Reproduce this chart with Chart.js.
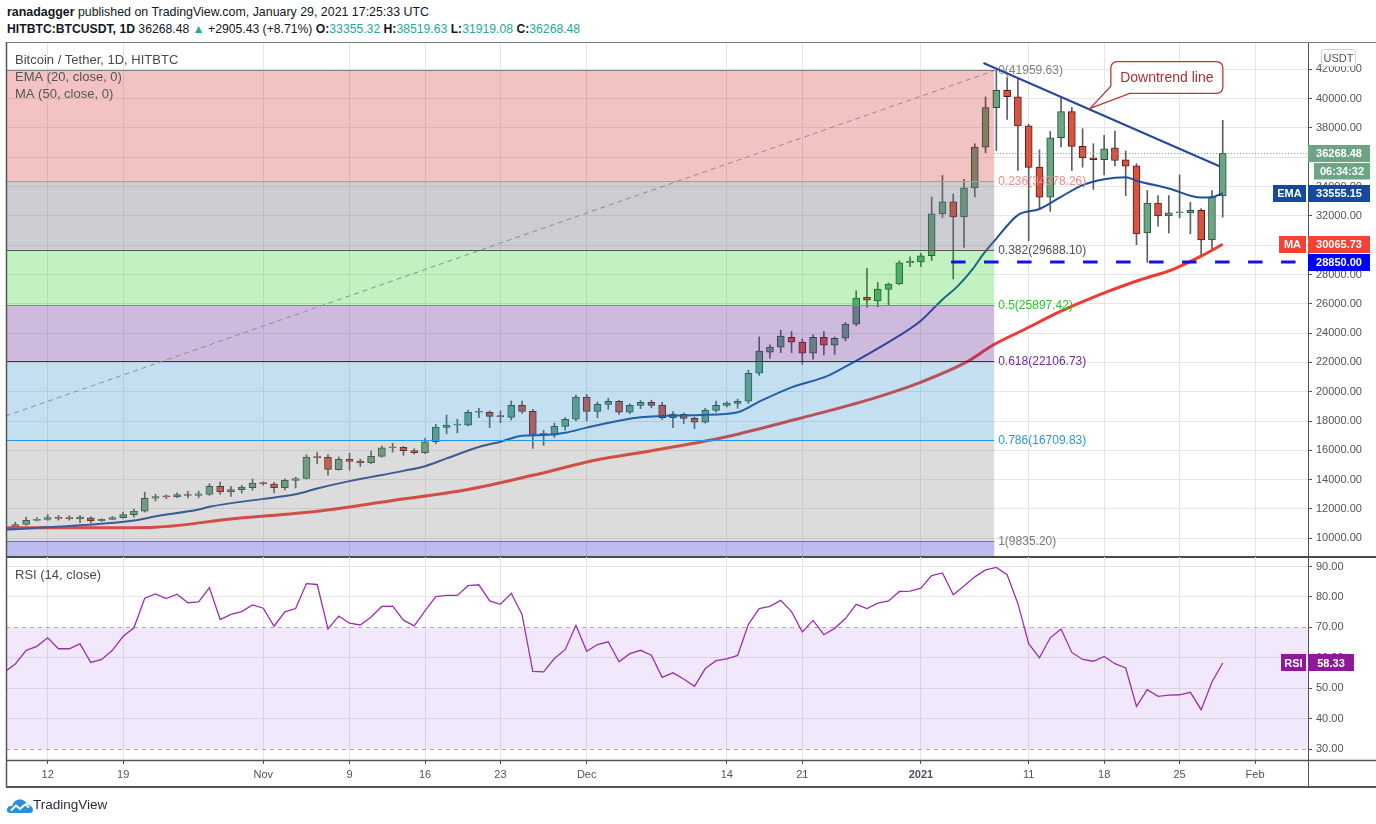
<!DOCTYPE html>
<html>
<head>
<meta charset="utf-8">
<script src="https://cdn.jsdelivr.net/npm/chart.js@4.4.1/dist/chart.umd.min.js"></script>
<style>
html, body { margin: 0; padding: 0; background: #fff; }
body { width: 1376px; height: 824px; position: relative; overflow: hidden; font-family: "Liberation Sans", Arial, sans-serif; color: #131722; }
canvas { position: absolute; left: 0; top: 0; }
.hd { position: absolute; left: 7px; white-space: nowrap; }
#h1 { top: 5px; font-size: 12.4px; }
#h2 { top: 22px; font-size: 12.2px; }
.v { color: #26a69a; }
#logo { position: absolute; left: 6px; top: 796px; }
#tv { position: absolute; left: 33px; top: 797px; font-size: 13.5px; color: #2a2e39; }
</style>
</head>
<body>
<div class="hd" id="h1"><b>ranadagger</b> published on TradingView.com, January 29, 2021 17:25:33 UTC</div>
<div class="hd" id="h2"><b>HITBTC:BTCUSDT, 1D</b> 36268.48 <span class="v">&#9650;</span> +2905.43 (+8.71%) <b>O:</b><span class="v">33355.32</span> <b>H:</b><span class="v">38519.63</span> <b>L:</b><span class="v">31919.08</span> <b>C:</b><span class="v">36268.48</span></div>
<canvas id="main" width="1376" height="824"></canvas>
<canvas id="rsi" width="1376" height="824"></canvas>
<svg id="logo" width="28" height="18" viewBox="0 0 28 18"><path d="M4 17 C1 17 0 14 1.5 12 C2.5 10 5 9.5 6 10.5 C7 6 10 3.5 14 3.5 C18 3.5 20.5 6 21 9 C24 9 27 11 27 14 C27 16 25.5 17 24 17 Z" fill="#2a8fd8"/><polyline points="5,14.5 10,9.5 14,13 19,8.5 23,11.5" fill="none" stroke="#fff" stroke-width="2"/></svg>
<div id="tv">TradingView</div>
<script>
const FONT = '"Liberation Sans", Arial, sans-serif';

// days are counted from 2020-10-12 (= 0); first candle is 2020-10-08
const firstDay = -4;

const opens = [10590,10780,10940,11220,11290,11430,11370,11330,11400,11200,11290,11410,11610,11850,12730,12880,12830,12990,12930,13000,
  13540,13170,13310,13450,13770,13700,13450,13950,14080,15560,15520,14680,15380,15260,15160,15590,16180,16200,15990,15840,
  16590,17570,17720,17710,18600,18600,18380,18250,19070,18660,17140,17030,17640,18120,19640,18660,19140,19350,18600,19070,
  19280,19070,18230,18460,18180,17930,18730,19070,19210,19350,21260,22700,23040,23720,23380,22630,23720,23180,23650,24610,
  26440,26200,26980,27350,28800,28850,29280,32130,32950,31930,33910,36690,39380,40560,40130,38150,35320,33270,37330,39110,
  36740,35960,35830,36650,35830,35420,30830,32880,32000,32200,32200,32380,30360,33355.32];
const highs = [10950,11100,11440,11420,11620,11560,11540,11570,11470,11330,11480,11790,11990,13150,13000,12950,13100,13200,13220,13720,
  13840,13540,13620,14050,13840,13820,14060,14170,15700,15880,15720,15550,15810,15400,15950,16290,16480,16270,16120,16820,
  17770,18410,18120,18730,18870,18690,18690,19370,19370,18800,17370,17860,18230,19780,19820,19300,19550,19420,19170,19400,
  19420,19270,18640,18560,18260,18870,19370,19330,19500,21470,23740,23200,24200,24110,23590,23880,24110,23740,24720,26890,
  28420,27460,27420,28940,29210,29440,33280,34750,33500,34500,36920,40110,41959.63,41430,41320,38250,36500,37760,40110,39400,
  37950,36920,37490,37780,36420,35560,33730,33380,33380,34800,32930,32500,33730,38519.63];
const lows = [10530,10740,10900,11180,11220,11240,11230,11060,11050,11150,11260,11370,11440,11790,12550,12700,12780,12750,12780,12930,
  12990,12850,13080,13280,13620,13100,13300,13440,14050,15080,14300,14650,14650,14900,15100,15540,15880,15660,15750,15770,
  16460,17130,17200,17660,18230,17550,17890,18070,18520,16130,16340,16880,17370,18000,18000,18230,18800,18460,18500,18850,
  18900,18090,17550,17820,17480,17860,18600,18960,18870,19210,21120,22290,22670,22670,21870,22220,22510,22560,23470,24500,
  25750,25800,25910,27300,28530,28530,28950,31900,27690,29850,33300,36300,36460,38580,35100,30310,32470,32300,36700,35090,
  35320,33800,34800,35400,33380,30030,28830,31290,30830,31860,30770,29280,29740,31919.08];
const closes = [10770,10940,11220,11300,11420,11350,11340,11440,11210,11300,11420,11620,11850,12730,12850,12830,12990,12920,13030,13540,
  13170,13330,13490,13760,13730,13450,13950,14080,15540,15500,14700,15380,15250,15150,15590,16180,16220,15975,15840,16590,
  17590,17730,17760,18600,18640,18320,18300,19070,18660,17090,17090,17640,18120,19640,18660,19140,19350,18600,19070,19280,
  19070,18230,18460,18180,17920,18730,19070,19220,19350,21260,22770,23040,23790,23380,22630,23720,23180,23650,24610,26390,
  26250,27000,27350,28800,28890,29280,32130,32950,31930,33910,36690,39380,40560,40130,38130,35300,33270,37330,39110,36740,
  35960,35830,36580,35780,35390,30770,32880,32000,32200,32220,32380,30360,33300,36268.48];

const rsiValues = [55.4,58.0,62.5,63.8,66.6,63.0,63.0,64.6,58.5,59.5,62.5,67.1,69.9,79.6,81.0,79.5,80.9,78.1,78.4,83.1,
  72.6,74.3,75.2,77.4,76.3,70.4,75.1,76.2,84.4,84.1,69.5,73.7,71.4,70.8,73.4,76.9,77.0,72.4,70.5,75.4,
  80.1,80.5,80.5,83.7,84.0,78.7,77.6,81.2,74.3,55.6,55.4,59.8,62.7,70.7,62.2,64.4,65.3,58.7,61.4,62.5,
  60.9,53.6,55.1,53.1,50.7,56.5,59.1,59.7,60.8,71.0,76.2,76.9,78.9,75.2,68.5,72.3,67.6,69.7,72.9,77.6,
  76.2,78.0,78.7,81.8,81.9,82.9,87.0,87.9,80.7,83.6,86.6,88.9,89.7,87.3,77.8,64.7,60.0,66.6,69.5,61.8,
  59.5,58.9,60.5,58.1,56.7,44.1,49.6,47.4,47.8,47.9,48.7,43.0,52.1,58.33];

const emaDays = [-4,0,8,10,14,15,20,23,25,28,33,35,37,40,42,44,46,48,50,55,60.5,64,66,69,72.3,74,77.8,81,83,84.3,85.8,86.8,88,90,92,94,96,98,100,101,104,107,108,109];
const emaValues = [10590,10750,11210,11500,11960,12150,12690,13000,13400,13900,14600,14920,15450,16230,16590,17000,17050,17200,17550,18255,18410,18600,19320,20300,21070,21710,23300,24850,26300,27120,28370,29400,30450,32050,32470,33300,34100,34500,34640,34400,33870,33250,33270,33555.15];

const maDays = [-4,5,10,17,25,32,39,45,51.2,54.9,63,69.8,76.6,80.9,85.3,87.7,90.5,93.9,98.3,101.3,104.4,106.9,109];
const maValues = [10720,10720,10760,11320,11850,12580,13330,14300,15390,15840,16930,18190,19550,20620,22050,23190,24210,25460,26825,27624,28354,29213,30065.73];

const tickDays = [0,7,20,28,35,42,50,63,70,81,91,98,105,112];
const tickLabels = ['12','19','Nov','9','16','23','Dec','14','21','2021','11','18','25','Feb'];
const priceTicks = [10000,12000,14000,16000,18000,20000,22000,24000,26000,28000,30000,32000,34000,36000,38000,40000,42000];
const rsiTicks = [30,40,50,60,70,80,90];

const fibRatios = ['0','0.236','0.382','0.5','0.618','0.786','1'];
const fibPrices = [41959.63,34378.26,29688.10,25897.42,22106.73,16709.83,9835.20];
const fibLowDay = -37, fibHighDay = 88, fibEndDay = 87.8;

const trendStart = [86.8, 42430];
const trendEnd = [108.75, 35370];
const calloutTip = [96.7, 39340];
const supportPrice = 28850, supportFromDay = 83.8;
const lastEma = 33555.15, lastMa = 30065.73, lastRsi = 58.33;
const countdown = '06:34:32';

// view window
const xMin = -3.868, xMax = 116.91;
const yMin = 8723.5, yMax = 43862.7;
const rsiMin = 26.49, rsiMax = 93.12;

// styles
const upColor = '#6ba583', upBorder = '#225437';
const downColor = '#d75442', downBorder = '#5b1a13';
const gridColor = '#e6e6e6';
const axisColor = '#50535e';
const fibFills = ['rgba(204,0,0,0.24)','rgba(110,110,125,0.35)','rgba(0,200,0,0.24)','rgba(100,40,150,0.32)',
  'rgba(40,140,200,0.28)','rgba(128,128,128,0.28)','rgba(70,70,220,0.36)'];
const fibLines = ['#808080','#e08585','#555555','#4caf50','#4a1d7a','#2196f3','#787878'];
const fibTexts = ['#808080','#f08a8a','#505050','#2fbf2f','#6a2d9a','#2d96dc','#787878'];

const candleX = closes.map((c, i) => i + firstDay);
const isUp = i => closes[i] >= opens[i];

function tag(ctx, yc, x0, x1, bg, text) {
  ctx.fillStyle = bg;
  ctx.fillRect(x0, Math.round(yc - 8.5), x1 - x0, 17);
  ctx.fillStyle = '#fff';
  ctx.font = 'bold 11px ' + FONT;
  ctx.textAlign = 'center';
  ctx.textBaseline = 'middle';
  ctx.fillText(text, (x0 + x1) / 2, yc + 0.5);
}

function hline(ctx, x0, x1, yy, color, w) {
  ctx.strokeStyle = color; ctx.lineWidth = w;
  ctx.beginPath(); ctx.moveTo(x0, yy); ctx.lineTo(x1, yy); ctx.stroke();
}
function vline(ctx, xx, y0, y1, color, w) {
  ctx.strokeStyle = color; ctx.lineWidth = w;
  ctx.beginPath(); ctx.moveTo(xx, y0); ctx.lineTo(xx, y1); ctx.stroke();
}

const mainOverlay = {
  id: 'mainOverlay',
  afterDatasetsDraw(chart) {
    const { ctx, chartArea: a, scales: { x, y } } = chart;
    ctx.save();
    ctx.beginPath();
    ctx.rect(a.left, a.top, a.right - a.left, a.bottom - a.top);
    ctx.clip();
    const xEnd = x.getPixelForValue(fibEndDay);

    // fib zones over candles
    for (let i = 0; i < fibPrices.length; i++) {
      const t = y.getPixelForValue(fibPrices[i]);
      const b = i + 1 < fibPrices.length ? y.getPixelForValue(fibPrices[i + 1]) : a.bottom;
      ctx.fillStyle = fibFills[i];
      ctx.fillRect(a.left, t, xEnd - a.left, b - t);
    }
    ctx.font = '12px ' + FONT;
    ctx.textAlign = 'left';
    ctx.textBaseline = 'middle';
    fibPrices.forEach((p, i) => {
      const py = Math.round(y.getPixelForValue(p)) + 0.5;
      hline(ctx, a.left, xEnd, py, fibLines[i], 1);
      ctx.fillStyle = fibTexts[i];
      ctx.fillText(fibRatios[i] + '(' + p.toFixed(2) + ')', xEnd + 4, py);
    });

    // fib trend (dashed diagonal)
    ctx.setLineDash([5, 4]);
    ctx.strokeStyle = '#8c8c8c'; ctx.lineWidth = 1;
    ctx.beginPath();
    ctx.moveTo(x.getPixelForValue(fibLowDay), y.getPixelForValue(fibPrices[6]));
    ctx.lineTo(x.getPixelForValue(fibHighDay), y.getPixelForValue(fibPrices[0]));
    ctx.stroke();

    // last price dotted line
    const lastClose = closes[closes.length - 1];
    ctx.setLineDash([1, 2]);
    hline(ctx, xEnd, a.right, Math.round(y.getPixelForValue(lastClose)) + 0.5, upColor, 1);

    // support 28850
    ctx.setLineDash([14.5, 18.5]);
    hline(ctx, x.getPixelForValue(supportFromDay), a.right, y.getPixelForValue(supportPrice), '#1010f0', 3);
    ctx.setLineDash([]);

    // downtrend line
    ctx.strokeStyle = '#26479a'; ctx.lineWidth = 2;
    ctx.beginPath();
    ctx.moveTo(x.getPixelForValue(trendStart[0]), y.getPixelForValue(trendStart[1]));
    ctx.lineTo(x.getPixelForValue(trendEnd[0]), y.getPixelForValue(trendEnd[1]));
    ctx.stroke();

    // callout
    const tx = x.getPixelForValue(calloutTip[0]), ty = y.getPixelForValue(calloutTip[1]);
    const bx = tx + 20.7, by = ty - 46.6, bw = 112, bh = 31.6, r = 6;
    ctx.beginPath();
    ctx.moveTo(bx + r, by);
    ctx.lineTo(bx + bw - r, by);
    ctx.arcTo(bx + bw, by, bx + bw, by + r, r);
    ctx.lineTo(bx + bw, by + bh - r);
    ctx.arcTo(bx + bw, by + bh, bx + bw - r, by + bh, r);
    ctx.lineTo(bx + 19, by + bh);
    ctx.lineTo(tx, ty);
    ctx.lineTo(bx, by + bh - 7);
    ctx.lineTo(bx, by + r);
    ctx.arcTo(bx, by, bx + r, by, r);
    ctx.closePath();
    ctx.fillStyle = '#ffffff';
    ctx.fill();
    ctx.strokeStyle = '#b5393c'; ctx.lineWidth = 1.3;
    ctx.stroke();
    ctx.fillStyle = '#ae2f33';
    ctx.font = '14px ' + FONT;
    ctx.textAlign = 'center';
    ctx.fillText('Downtrend line', bx + bw / 2, by + bh / 2 + 0.5);
    ctx.restore();
  },
  afterDraw(chart) {
    const { ctx, chartArea: a, scales: { y } } = chart;
    ctx.save();
    // legend
    ctx.font = '13px ' + FONT;
    ctx.textAlign = 'left';
    ctx.textBaseline = 'middle';
    ctx.fillStyle = '#4a4a4a';
    ctx.fillText('Bitcoin / Tether, 1D, HITBTC', 15, 60.5);
    ctx.fillStyle = '#555';
    ctx.fillText('EMA (20, close, 0)', 15, 77.5);
    ctx.fillText('MA (50, close, 0)', 15, 94.5);

    // axis tags
    const lastClose = closes[closes.length - 1];
    const pc = y.getPixelForValue(lastClose);
    tag(ctx, pc, 1308, 1370, upColor, lastClose.toFixed(2));
    ctx.fillStyle = upColor;
    ctx.fillRect(1314, Math.round(pc + 9.5), 56, 16.5);
    ctx.fillStyle = '#fff';
    ctx.fillText(countdown, 1342, Math.round(pc + 9.5) + 8.5);
    const pe = y.getPixelForValue(lastEma);
    tag(ctx, pe, 1273, 1306, '#15499c', 'EMA');
    tag(ctx, pe, 1308, 1370, '#15499c', lastEma.toFixed(2));
    const pm = y.getPixelForValue(lastMa);
    tag(ctx, pm, 1279, 1306, '#f44336', 'MA');
    tag(ctx, pm, 1308, 1370, '#f44336', lastMa.toFixed(2));
    tag(ctx, y.getPixelForValue(supportPrice), 1308, 1370, '#0000ff', supportPrice.toFixed(2));

    // USDT badge
    ctx.beginPath();
    ctx.roundRect(1321.5, 49.5, 34, 17, 3);
    ctx.fillStyle = '#fff'; ctx.fill();
    ctx.strokeStyle = '#cfcfcf'; ctx.lineWidth = 1; ctx.stroke();
    ctx.fillStyle = axisColor;
    ctx.font = '11px ' + FONT;
    ctx.textAlign = 'center';
    ctx.fillText('USDT', 1338.5, 58.5);

    // frame
    hline(ctx, 6, 1376, 42.5, '#7a7a7a', 1);
    vline(ctx, 6.5, 42, 557, '#555', 1.5);
    hline(ctx, 6, 1376, 557, '#4a4a4a', 2);
    ctx.restore();
  }
};

const rsiOverlay = {
  id: 'rsiOverlay',
  beforeDatasetsDraw(chart) {
    const { ctx, chartArea: a, scales: { y } } = chart;
    ctx.save();
    const y70 = y.getPixelForValue(70), y30 = y.getPixelForValue(30);
    ctx.fillStyle = 'rgba(130,30,230,0.1)';
    ctx.fillRect(a.left, y70, a.right - a.left, y30 - y70);
    ctx.setLineDash([4, 4]);
    hline(ctx, a.left, a.right, Math.round(y70) + 0.5, '#ababab', 1);
    hline(ctx, a.left, a.right, Math.round(y30) + 0.5, '#ababab', 1);
    ctx.restore();
  },
  afterDraw(chart) {
    const { ctx, chartArea: a, scales: { y } } = chart;
    ctx.save();
    ctx.font = '13px ' + FONT;
    ctx.textAlign = 'left';
    ctx.textBaseline = 'middle';
    ctx.fillStyle = '#4a4a4a';
    ctx.fillText('RSI (14, close)', 15, 575);
    const pr = y.getPixelForValue(lastRsi);
    tag(ctx, pr, 1281, 1306, '#8e1a99', 'RSI');
    tag(ctx, pr, 1308, 1354, '#8e1a99', lastRsi.toFixed(2));
    vline(ctx, 6.5, 557, 787, '#555', 1.5);
    vline(ctx, 1308.5, 760, 787, '#555', 1);
    hline(ctx, 6, 1376, 760.5, '#555', 1.5);
    hline(ctx, 6, 1376, 787, '#555', 2);
    ctx.restore();
  }
};

new Chart(document.getElementById('main'), {
  type: 'bar',
  data: {
    datasets: [
      {
        type: 'line', label: 'EMA 20', order: 0,
        data: emaDays.map((d, i) => ({ x: d, y: emaValues[i] })),
        borderColor: '#1f4e9f', borderWidth: 2, pointRadius: 0,
        cubicInterpolationMode: 'monotone'
      },
      {
        type: 'line', label: 'MA 50', order: 1,
        data: maDays.map((d, i) => ({ x: d, y: maValues[i] })),
        borderColor: '#f23b2f', borderWidth: 3, pointRadius: 0,
        cubicInterpolationMode: 'monotone'
      },
      {
        label: 'body', order: 2, grouped: false,
        data: candleX.map((d, i) => ({ x: d, y: [opens[i], closes[i]] })),
        backgroundColor: c => isUp(c.dataIndex) ? upColor : downColor,
        borderColor: c => isUp(c.dataIndex) ? upBorder : downBorder,
        borderWidth: 1, borderSkipped: false, barThickness: 7, minBarLength: 1
      },
      {
        label: 'wick', order: 3, grouped: false,
        data: candleX.map((d, i) => ({ x: d, y: [lows[i], highs[i]] })),
        backgroundColor: '#5d5f66', barThickness: 1
      }
    ]
  },
  options: {
    responsive: false,
    animation: false,
    layout: { padding: { left: 6, top: 42, right: 0, bottom: 267 } },
    plugins: { legend: { display: false }, tooltip: { enabled: false } },
    scales: {
      x: {
        type: 'linear', min: xMin, max: xMax, offset: false,
        afterBuildTicks: s => { s.ticks = tickDays.map(v => ({ value: v })); },
        afterFit: s => { s.height = 0; },
        ticks: { display: false },
        grid: { color: gridColor, drawTicks: false, offset: false },
        border: { display: false }
      },
      y: {
        position: 'right', min: yMin, max: yMax,
        afterBuildTicks: s => { s.ticks = priceTicks.map(v => ({ value: v })); },
        afterFit: s => { s.width = 68; },
        ticks: { callback: v => Number(v).toFixed(2), color: axisColor, padding: 4, font: { family: FONT, size: 11 } },
        grid: { color: gridColor, tickLength: 4, tickColor: axisColor },
        border: { display: true, color: axisColor, width: 1 }
      }
    }
  },
  plugins: [mainOverlay]
});

new Chart(document.getElementById('rsi'), {
  type: 'line',
  data: {
    datasets: [{
      label: 'RSI 14',
      data: candleX.map((d, i) => ({ x: d, y: rsiValues[i] })),
      borderColor: '#9c2fb0', borderWidth: 1.3, pointRadius: 0, tension: 0
    }]
  },
  options: {
    responsive: false,
    animation: false,
    layout: { padding: { left: 6, top: 557, right: 0, bottom: 37 } },
    plugins: { legend: { display: false }, tooltip: { enabled: false } },
    scales: {
      x: {
        type: 'linear', min: xMin, max: xMax, offset: false,
        afterBuildTicks: s => { s.ticks = tickDays.map(v => ({ value: v })); },
        afterFit: s => { s.height = 27; },
        ticks: {
          callback: (v, i) => tickLabels[i], autoSkip: false, maxRotation: 0, padding: 4, color: axisColor,
          font: c => ({ family: FONT, size: 11, weight: tickLabels[c.index] === '2021' ? 'bold' : 'normal' })
        },
        grid: { color: gridColor, tickLength: 4, tickColor: axisColor },
        border: { display: false }
      },
      y: {
        position: 'right', min: rsiMin, max: rsiMax,
        afterBuildTicks: s => { s.ticks = rsiTicks.map(v => ({ value: v })); },
        afterFit: s => { s.width = 68; },
        ticks: { callback: v => Number(v).toFixed(2), color: axisColor, padding: 4, font: { family: FONT, size: 11 } },
        grid: {
          color: c => (c.tick && (c.tick.value === 70 || c.tick.value === 30)) ? 'rgba(0,0,0,0)' : gridColor,
          tickLength: 4, tickColor: axisColor
        },
        border: { display: true, color: axisColor, width: 1 }
      }
    }
  },
  plugins: [rsiOverlay]
});
</script>
</body>
</html>
